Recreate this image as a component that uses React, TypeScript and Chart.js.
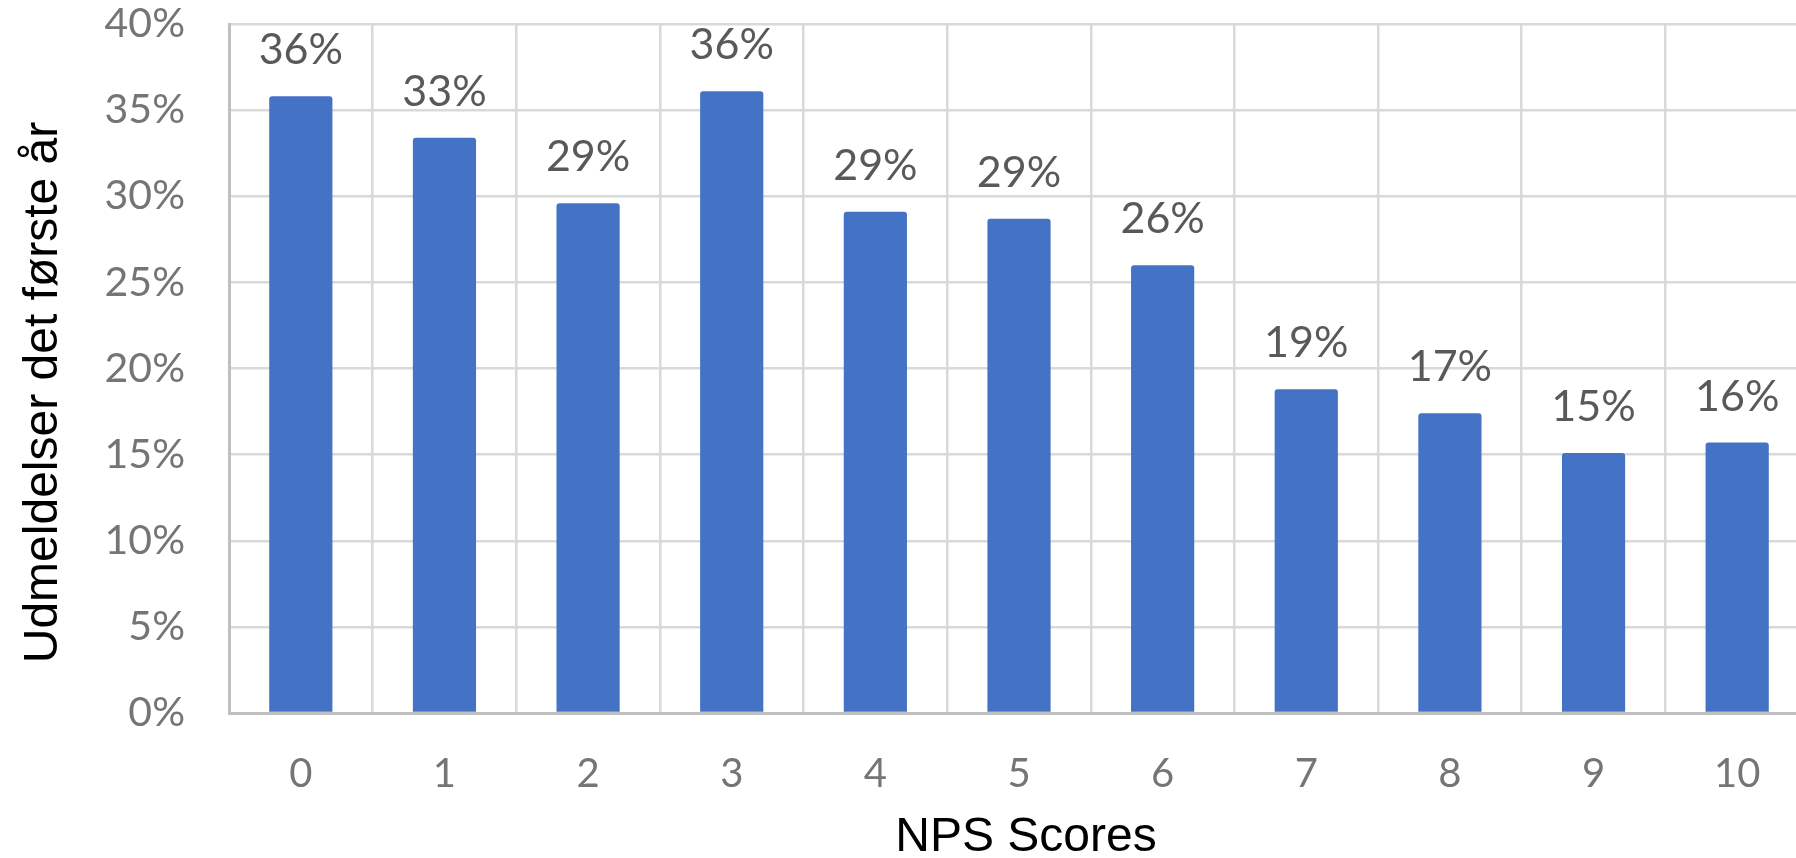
import React, { useEffect, useRef } from 'react';
import { Chart, registerables } from 'chart.js';

Chart.register(...registerables);

const categories = ['0', '1', '2', '3', '4', '5', '6', '7', '8', '9', '10'];
const values = [35.8, 33.4, 29.6, 36.1, 29.1, 28.7, 26.0, 18.8, 17.4, 15.1, 15.7];
const valueLabels = ['36%', '33%', '29%', '36%', '29%', '29%', '26%', '19%', '17%', '15%', '16%'];
const yMin = 0;
const yMax = 40;
const yStep = 5;
const yTitle = 'Udmeldelser det første år';
const xTitle = 'NPS Scores';

const CANVAS_W = 1809;
const CANVAS_H = 858;

const valueLabelPlugin = {
  id: 'valueLabels',
  afterDatasetsDraw(chart: any) {
    const meta = chart.getDatasetMeta(0);
    const ctx = chart.ctx;
    ctx.save();
    ctx.font = '43px Lato';
    ctx.fillStyle = '#595959';
    ctx.textAlign = 'center';
    ctx.textBaseline = 'alphabetic';
    meta.data.forEach((el: any, i: number) => {
      ctx.fillText(valueLabels[i], el.x, el.y - 32);
    });
    ctx.restore();
  },
};

const axisTitlePlugin = {
  id: 'axisTitles',
  afterDraw(chart: any) {
    const { ctx, chartArea } = chart;
    ctx.save();
    ctx.font = '48px "Liberation Sans", Arial, sans-serif';
    ctx.fillStyle = '#000000';
    ctx.textAlign = 'center';
    ctx.textBaseline = 'alphabetic';
    ctx.save();
    ctx.translate(57, (chartArea.top + chartArea.bottom) / 2 + 24);
    ctx.rotate(-Math.PI / 2);
    ctx.fillText(yTitle, 0, 0);
    ctx.restore();
    ctx.fillText(xTitle, (chartArea.left + chartArea.right) / 2 + 7, CANVAS_H - 7);
    ctx.restore();
  },
};

export default function App() {
  const ref = useRef<HTMLCanvasElement | null>(null);

  useEffect(() => {
    if (!ref.current) return;
    const chart = new Chart(ref.current, {
      type: 'bar',
      data: {
        labels: categories,
        datasets: [
          {
            data: values,
            backgroundColor: '#4472C4',
            borderWidth: 0,
            borderRadius: 3,
            borderSkipped: 'bottom',
            barPercentage: 0.44,
            categoryPercentage: 1,
          },
        ],
      },
      options: {
        animation: false,
        responsive: false,
        devicePixelRatio: 1,
        layout: { padding: { top: 24, left: 0, right: 0, bottom: 0 } },
        plugins: {
          legend: { display: false },
          tooltip: { enabled: false },
          title: { display: false },
        },
        scales: {
          x: {
            offset: true,
            grid: {
              offset: true,
              color: '#d9d9d9',
              lineWidth: 2.5,
              drawTicks: false,
            },
            border: { color: '#bfbfbf', width: 3 },
            ticks: {
              color: '#757575',
              font: { family: 'Lato', size: 40 },
              padding: 37,
              maxRotation: 0,
            },
            afterFit: (scale: any) => {
              scale.height = 145;
              scale.paddingLeft = 0;
              scale.paddingRight = 0;
            },
          },
          y: {
            min: yMin,
            max: yMax,
            grid: {
              color: '#d9d9d9',
              lineWidth: 2.5,
              drawTicks: false,
            },
            border: { color: '#bfbfbf', width: 3 },
            ticks: {
              stepSize: yStep,
              color: '#757575',
              font: { family: 'Lato', size: 41 },
              padding: 44,
              callback: (v: any) => `${v}%`,
            },
            afterFit: (scale: any) => {
              scale.width = 229;
              scale.paddingTop = 0;
              scale.paddingBottom = 0;
            },
          },
        },
      },
      plugins: [valueLabelPlugin, axisTitlePlugin],
    });
    return () => chart.destroy();
  }, []);

  return (
    <div
      style={{
        position: 'fixed',
        left: 0,
        top: 0,
        width: 1796,
        height: 858,
        overflow: 'hidden',
        background: '#ffffff',
      }}
    >
      <canvas
        ref={ref}
        width={CANVAS_W}
        height={CANVAS_H}
        style={{ width: CANVAS_W, height: CANVAS_H, display: 'block' }}
      />
    </div>
  );
}
